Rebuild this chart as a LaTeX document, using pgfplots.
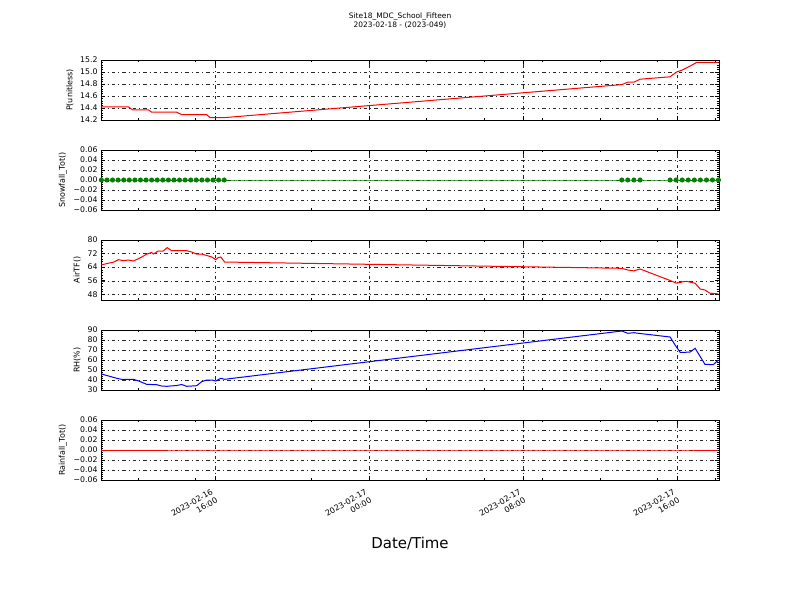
\documentclass[border=0pt]{standalone}
\usepackage{fontspec}
\setmainfont{DejaVu Sans}
\usepackage{pgfplots}
\pgfplotsset{compat=1.18}
\definecolor{mplgreen}{HTML}{008000}
\pgfplotsset{
  panel/.style={
    scale only axis, width=618bp, height=60bp,
    anchor=south west,
    xmin=10.08, xmax=42.18,
    xtick={16,24,32,40},
    minor xtick={12,15,21,27,30,33,36,39,42},
    xticklabels={},
    tick align=inside,
    major tick length=4bp, minor tick length=2bp,
    every tick/.style={black, line width=0.6bp},
    xmajorgrids, ymajorgrids,
    major grid style={black!85, line width=0.35bp, dash pattern=on 3.5bp off 3bp on 1bp off 3bp},
    axis line style={line width=0.8bp},
    tick label style={font=\fontsize{7.8}{9}\selectfont},
    ylabel style={font=\fontsize{8}{9}\selectfont},
    /pgf/number format/assume math mode=true,
    scaled y ticks=false,
    minor y tick num=4,
    clip=true,
  },
}
\begin{document}
\begin{tikzpicture}
\path[use as bounding box] (0,0) rectangle (800bp,-600bp);
\node[font=\fontsize{7.5}{9}\selectfont] at (400bp,-16.5bp) {Site18\_MDC\_School\_Fifteen};
\node[font=\fontsize{7.5}{9}\selectfont] at (400bp,-25.5bp) {2023-02-18 - (2023-049)};

% Panel 1: P
\begin{axis}[panel, at={(101bp,-120bp)}, ymin=14.2, ymax=15.2,
  ytick={14.2,14.4,14.6,14.8,15.0,15.2}, yticklabels={14.2,14.4,14.6,14.8,15.0,15.2},
  ylabel={P(unitless)}]
\addplot[red, line width=1bp] coordinates {
(10.10,14.42) (11.50,14.42) (11.72,14.37) (12.54,14.37) (12.71,14.33) (14.01,14.33)
(14.27,14.29) (15.57,14.29) (15.74,14.24) (16.50,14.24)
(37.13,14.79) (37.44,14.83) (37.76,14.83) (38.08,14.88)
(39.64,14.92) (39.98,15.00) (40.25,15.03) (40.50,15.07) (40.80,15.12) (41.02,15.16) (41.40,15.16) (41.80,15.16) (42.15,15.16)
};
\end{axis}

% Panel 2: Snowfall
\begin{axis}[panel, at={(101bp,-210bp)}, ymin=-0.06, ymax=0.06,
  ytick={-0.06,-0.04,-0.02,0,0.02,0.04,0.06},
  yticklabels={−0.06,−0.04,−0.02,0.00,0.02,0.04,0.06},
  ylabel={Snowfall\_Tot()}]
\addplot[mplgreen, line width=1bp, mark=*, mark size=2bp, mark options={fill=mplgreen, draw=mplgreen}] coordinates {
(10.10,0) (10.39,0) (10.68,0) (10.97,0) (11.26,0) (11.55,0) (11.84,0) (12.13,0)
(12.42,0) (12.71,0) (13.00,0) (13.29,0) (13.58,0) (13.87,0) (14.16,0) (14.45,0)
(14.74,0) (15.03,0) (15.32,0) (15.61,0) (15.90,0) (16.19,0) (16.48,0)
(37.13,0) (37.44,0) (37.76,0) (38.08,0)
(39.64,0) (39.95,0) (40.27,0) (40.58,0) (40.90,0) (41.21,0) (41.53,0) (41.84,0) (42.15,0)
};
\end{axis}

% Panel 3: AirT
\begin{axis}[panel, at={(101bp,-300bp)}, ymin=44.6, ymax=80,
  ytick={48,56,64,72,80}, yticklabels={48,56,64,72,80},
  ylabel={AirTF()}]
\addplot[red, line width=1bp] coordinates {
(10.10,65.3) (10.46,66.3) (10.72,66.9) (10.98,68.4) (11.24,67.8) (11.50,68.2) (11.76,67.6)
(12.10,69.4) (12.45,71.6) (12.71,72.7) (12.80,71.7) (13.05,73.5) (13.31,73.5) (13.52,75.5)
(13.75,73.7) (14.18,73.7) (14.53,73.7) (14.79,72.9) (15.05,71.7) (15.31,71.7) (15.65,70.6)
(15.83,70.0) (16.04,68.4) (16.17,69.6) (16.30,70.0) (16.50,67.0)
(37.13,63.3) (37.44,62.3) (37.76,61.8) (38.08,62.9)
(39.64,56.1) (39.98,54.5) (40.33,55.4) (40.50,55.6) (40.94,54.5) (41.20,51.1) (41.45,50.5)
(41.71,48.6) (42.15,48.2)
};
\end{axis}

% Panel 4: RH
\begin{axis}[panel, at={(101bp,-390bp)}, ymin=30, ymax=90,
  ytick={30,40,50,60,70,80,90}, yticklabels={30,40,50,60,70,80,90},
  ylabel={RH(\%)}]
\addplot[blue, line width=1bp] coordinates {
(10.10,46) (10.29,45) (10.90,41.7) (11.15,40.7) (11.76,40.7) (12.00,39.3) (12.45,35.7)
(12.97,35.3) (13.23,34) (13.49,33.7) (14.01,34.5) (14.27,35.5) (14.53,33.7) (15.05,34.3)
(15.31,38.3) (15.57,40) (15.83,40) (16.04,39) (16.30,41.7) (16.50,40.7)
(37.13,89) (37.44,86.7) (37.76,87.3) (38.08,86.5)
(39.64,83) (39.90,75) (40.16,67.7) (40.42,67.7) (40.68,68) (40.94,71.7) (41.10,66.7)
(41.45,55.7) (41.88,55.3) (42.15,60)
};
\end{axis}

% Panel 5: Rainfall
\begin{axis}[panel, at={(101bp,-480bp)}, ymin=-0.06, ymax=0.06,
  ytick={-0.06,-0.04,-0.02,0,0.02,0.04,0.06},
  yticklabels={−0.06,−0.04,−0.02,0.00,0.02,0.04,0.06},
  ylabel={Rainfall\_Tot()},
  xticklabels={{2023-02-16\\16:00},{2023-02-17\\00:00},{2023-02-17\\08:00},{2023-02-17\\16:00}},
  xticklabel style={rotate=30, anchor=north east, align=right, font=\fontsize{8}{9.5}\selectfont, inner sep=1bp, xshift=-7bp, yshift=-4bp}]
\addplot[red, line width=1bp] coordinates {
(10.10,0) (16.50,0) (37.13,0) (38.08,0) (39.64,0) (42.15,0)
};
\end{axis}

\node[font=\fontsize{15}{18}\selectfont] at (410bp,-544bp) {Date/Time};
\end{tikzpicture}
\end{document}
